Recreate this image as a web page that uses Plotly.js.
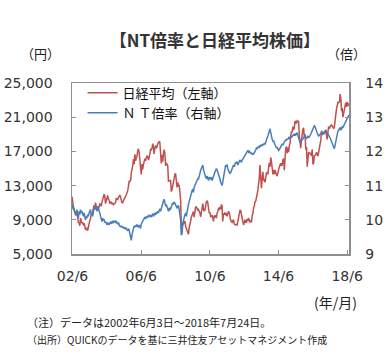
<!DOCTYPE html>
<html><head><meta charset="utf-8">
<script src="https://cdn.plot.ly/plotly-3.0.1.min.js"></script>
<style>html,body{margin:0;padding:0;background:#fff}#chart{width:387px;height:358px}</style>
</head><body><div id="chart"></div>
<script>
// Semi-monthly observations (1st and 16th of each month), 2002-06 .. 2018-07-24
const nikkei = [
11700,10700,10600,10200,9850,9600,9600,9400,9380,8700,8640,8300,9200,8900,
8580,8700,8340,8600,8360,7900,7970,8000,7700,8300,8420,8900,9080,9700,9560,9900,10340,10700,10220,11000,10560,10200,10100,10200,
10680,10900,10780,10600,11040,11400,11720,12000,11760,10900,11240,11500,11860,11400,11330,10900,11080,11100,10820,11000,10770,10900,11030,11000,
11490,11400,11390,11600,11740,11900,11670,11300,11010,11000,11280,11400,11580,11700,11900,12300,12410,12900,13570,13500,13610,14500,14870,15300,
16110,15500,16650,15900,16210,16400,17060,17300,16910,16100,15470,14300,15500,14900,15460,16000,16140,15900,16130,16500,16400,16000,16270,16700,
17230,17200,17380,17900,17600,16700,17290,17700,17400,17500,17880,18000,18140,18100,17250,15600,16570,15800,16790,17200,16740,15300,15680,15500,
15310,13500,13590,13600,13600,12300,12530,13000,13850,14200,14340,14400,13480,12800,13380,13000,13070,11600,11260,7800,8580,8400,8510,8600,
8860,8200,7990,7600,7570,7300,8110,8800,8830,9300,9520,9800,9960,9300,10360,10500,10490,10300,10130,10200,10030,9800,9350,10100,
10550,10900,10200,10000,10130,10700,11090,11200,11060,10400,9770,9900,9380,9400,9540,9200,8820,9500,9370,9500,9200,9800,9940,10300,
10230,10500,10240,10800,10620,8800,9760,9600,9850,9600,9690,9400,9820,10000,9830,9100,8960,8800,8700,8900,8990,8500,8440,8400,
8460,8400,8800,9300,9720,10100,10080,9500,9520,8800,8400,8600,9010,8700,8700,9100,8840,9200,8870,8700,8930,8700,9450,9700,
10400,10600,11140,11200,11560,12400,12400,13200,13860,15400,13770,12700,13680,14600,13670,13700,13390,14400,14460,14500,14330,15100,15660,15200,
16290,15800,14910,14300,14840,14300,14830,14400,14300,14100,14630,15100,15160,15400,15620,15300,15430,16000,16170,14800,16410,17400,17460,16800,
17450,16900,17670,18000,18800,19300,19210,19900,19520,19700,20560,20300,20240,20600,20590,20500,18890,18000,17390,18300,19080,19600,19750,18600,
19030,17200,17520,15200,16030,16900,16760,16800,16670,16500,17230,15500,15580,16500,16570,16600,16890,16500,16450,16900,17430,17900,18310,19400,
19110,19100,19040,19300,19120,19500,18910,18400,19200,19900,19650,19900,20030,20100,19930,19700,19650,19900,20360,21300,22010,22400,22720,22700,
22760,23700,23100,21700,22070,21000,21450,21800,22470,22700,22200,22800,22300,22600,22510
];
const ntRatio = [
10.45,10.40,10.30,10.35,10.20,10.25,10.15,10.30,10.20,10.05,10.25,10.15,10.30,10.20,
10.25,10.15,10.10,10.20,10.05,10.00,10.10,10.05,10.15,10.10,10.20,10.25,10.30,10.15,10.20,10.10,10.25,10.35,10.30,10.40,10.35,10.25,10.40,10.35,
10.30,10.20,10.10,10.00,9.95,10.05,9.98,10.02,9.92,9.95,9.90,9.85,9.92,9.88,9.85,9.90,9.95,9.88,9.92,9.97,9.90,9.95,9.98,9.93,
9.95,9.90,9.88,9.92,9.85,9.80,9.83,9.78,9.82,9.76,9.80,9.74,9.78,9.72,9.75,9.70,9.68,9.74,9.70,9.60,9.45,9.40,9.55,9.70,
9.75,9.82,9.78,9.84,9.80,9.86,9.82,9.78,9.85,9.80,9.75,9.88,9.92,9.98,10.00,10.05,10.08,10.02,10.10,10.05,10.12,10.08,10.15,10.10,
10.12,10.08,10.14,10.18,10.10,10.16,10.20,10.14,10.22,10.18,10.25,10.20,10.28,10.32,10.25,10.35,10.45,10.50,10.55,10.60,10.50,10.40,10.45,10.35,
10.30,10.25,10.35,10.28,10.32,10.40,10.45,10.50,10.45,10.52,10.48,10.42,10.40,10.35,10.38,10.42,10.30,10.20,10.00,9.55,9.60,9.90,10.00,10.10,
10.15,10.20,10.10,10.25,10.30,10.45,10.55,10.60,10.70,10.80,10.85,10.90,10.80,10.95,11.00,11.05,11.10,11.15,11.20,11.18,11.30,11.35,11.45,11.50,
11.55,11.60,11.45,11.35,11.30,11.25,11.20,11.28,11.22,11.15,11.25,11.20,11.18,11.25,11.15,11.20,11.30,11.35,11.40,11.45,11.50,11.45,11.40,11.35,
11.30,11.20,11.10,11.05,11.00,11.10,11.25,11.40,11.50,11.60,11.55,11.62,11.50,11.45,11.40,11.35,11.38,11.45,11.50,11.55,11.60,11.55,11.62,11.68,
11.65,11.70,11.60,11.65,11.70,11.75,11.72,11.68,11.74,11.78,11.80,11.85,11.90,11.95,11.98,12.00,12.03,11.98,12.00,11.95,11.98,11.92,11.95,11.90,
11.92,11.96,12.00,12.05,12.10,12.08,12.12,12.15,12.10,12.18,12.14,12.20,12.16,12.22,12.18,12.25,12.20,12.30,12.35,12.40,12.45,12.55,12.60,12.66,
12.55,12.40,12.35,12.30,12.32,12.25,12.20,12.15,12.10,12.13,12.08,12.03,12.05,12.10,12.15,12.20,12.22,12.18,12.25,12.28,12.30,12.35,12.32,12.38,
12.35,12.40,12.38,12.42,12.45,12.40,12.44,12.48,12.50,12.46,12.52,12.48,12.50,12.55,12.45,12.35,12.30,12.25,12.28,12.32,12.35,12.38,12.40,12.42,
12.45,12.40,12.38,12.42,12.45,12.40,12.42,12.46,12.50,12.55,12.60,12.65,12.70,12.76,12.72,12.65,12.58,12.52,12.48,12.45,12.47,12.50,12.52,12.55,
12.50,12.52,12.55,12.58,12.60,12.62,12.58,12.55,12.52,12.48,12.45,12.40,12.35,12.28,12.25,12.18,12.12,12.08,12.20,12.35,12.45,12.55,12.60,12.62,
12.65,12.70,12.62,12.68,12.72,12.70,12.75,12.80,12.85,12.88,12.92,12.95,13.00,13.05,13.05
];
const xTickVals = ['2002-06-15','2006-06-15','2010-06-15','2014-06-15','2018-06-15'];
const xTickText = ['02/6','06/6','10/6','14/6','18/6'];
const seriesNames = ['日経平均（左軸）','Ｎ Ｔ倍率（右軸）'];

const dates = [];
for (let y = 2002; y <= 2018; y++) {
  const m0 = (y === 2002) ? 6 : 1, m1 = (y === 2018) ? 7 : 12;
  for (let m = m0; m <= m1; m++) {
    const mm = String(m).padStart(2, '0');
    dates.push(y + '-' + mm + '-01', y + '-' + mm + '-16');
  }
}
dates.push('2018-07-24');
dates[0] = '2002-06-03';

const numFont = 'DejaVu Sans, Noto Sans CJK JP, sans-serif';
const jpFont = 'Noto Sans CJK JP, sans-serif';
const frame = '#8f8f8f';

const traces = [
  {x: dates, y: nikkei, name: seriesNames[0], type: 'scatter', mode: 'lines',
   line: {color: '#C0504D', width: 1.5}, yaxis: 'y'},
  {x: dates, y: ntRatio, name: seriesNames[1], type: 'scatter', mode: 'lines',
   line: {color: '#4A7EBB', width: 1.5}, yaxis: 'y2'}
];

const layout = {
  width: 387, height: 358,
  margin: {l: 72, r: 38, t: 83, b: 104},
  paper_bgcolor: '#fff', plot_bgcolor: '#fff',
  showlegend: true,
  title: {text: '【NT倍率と日経平均株価】', x: 0.516, xref: 'paper', xanchor: 'center',
          y: 1, yref: 'container', yanchor: 'top', pad: {t: 35},
          font: {family: jpFont, size: 17, color: '#333', weight: 'bold'}},
  legend: {x: 0.038, y: 1.03, xanchor: 'left', yanchor: 'top', bgcolor: 'rgba(0,0,0,0)',
           font: {family: jpFont, size: 13, color: '#111'}, tracegroupgap: 0, itemwidth: 30},
  xaxis: {type: 'date', range: ['2002-06-03', '2018-07-24'],
          tickvals: xTickVals, ticktext: xTickText, ticks: 'inside', ticklen: 4, tickcolor: frame,
          showline: true, linecolor: frame, linewidth: 1.5, mirror: true, showgrid: false, zeroline: false,
          tickfont: {family: numFont, size: 14, color: '#333'}, ticklabelstandoff: 9},
  yaxis: {range: [5000, 25000], dtick: 4000, tick0: 5000, tickformat: ',d', ticks: 'inside', ticklen: 4,
          tickcolor: frame, showline: true, linecolor: frame, linewidth: 1.5, showgrid: false, zeroline: false,
          tickfont: {family: numFont, size: 14, color: '#333'}, ticklabelstandoff: 15},
  yaxis2: {range: [9, 14], dtick: 1, overlaying: 'y', side: 'right', ticks: 'inside', ticklen: 4,
           tickcolor: frame, showline: true, linecolor: frame, linewidth: 1.5, showgrid: false, zeroline: false,
           tickfont: {family: numFont, size: 14, color: '#333'}, ticklabelstandoff: 12},
  annotations: [
    {text: '（円）', xref: 'paper', yref: 'paper', x: -0.112, y: 1.17, xanchor: 'center', yanchor: 'middle',
     showarrow: false, font: {family: jpFont, size: 13, color: '#222'}},
    {text: '（倍）', xref: 'paper', yref: 'paper', x: 0.99, y: 1.17, xanchor: 'center', yanchor: 'middle',
     showarrow: false, font: {family: jpFont, size: 13, color: '#222'}},
    {text: '(年/月)', xref: 'paper', yref: 'paper', x: 1.035, y: -0.28, xanchor: 'right', yanchor: 'middle',
     showarrow: false, font: {family: jpFont, size: 14, color: '#222'}},
    {text: '（注）データは2002年6月3日～2018年7月24日。', xref: 'paper', yref: 'paper', x: -0.17, y: -0.40,
     xanchor: 'left', yanchor: 'middle', showarrow: false, font: {family: jpFont, size: 11, color: '#222'}},
    {text: '（出所）QUICKのデータを基に三井住友アセットマネジメント作成', xref: 'paper', yref: 'paper', x: -0.17, y: -0.50,
     xanchor: 'left', yanchor: 'middle', showarrow: false, font: {family: jpFont, size: 10, color: '#222'}}
  ]
};

Plotly.newPlot('chart', traces, layout, {displayModeBar: false, staticPlot: true});
</script>
</body></html>
